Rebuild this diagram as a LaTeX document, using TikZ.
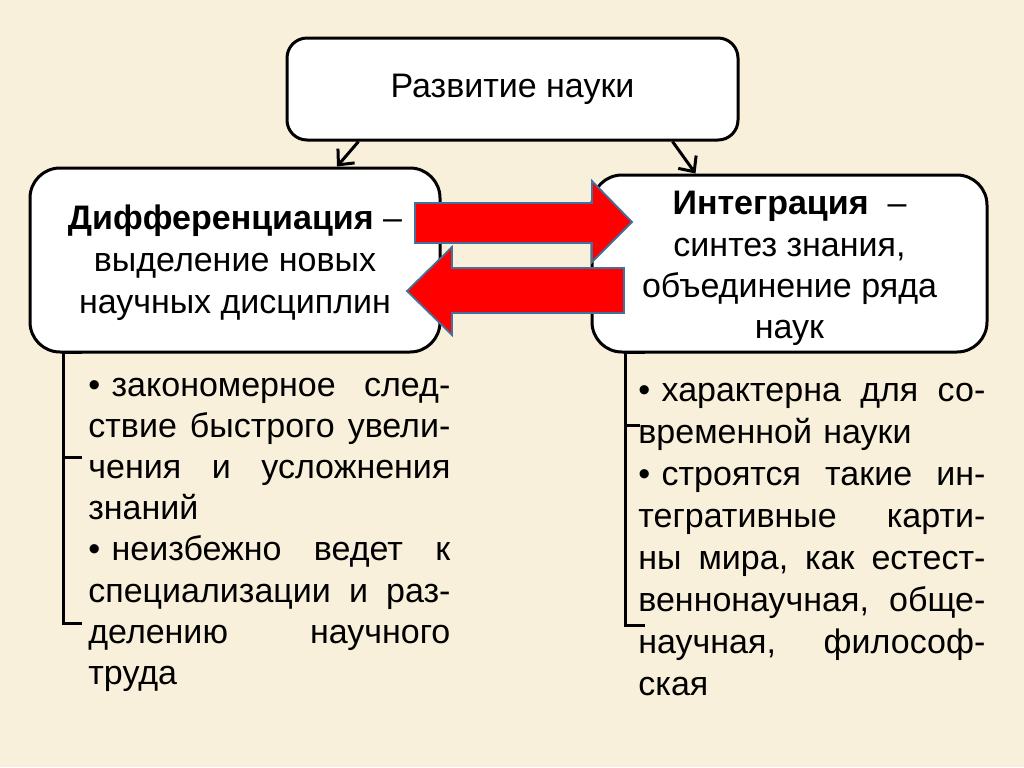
\documentclass[tikz,border=0pt]{standalone}
\usepackage{fontspec}
\setmainfont{Liberation Sans}
\usetikzlibrary{arrows.meta}
\definecolor{bg}{RGB}{249,240,219}
\definecolor{arrowred}{RGB}{255,0,0}
\definecolor{arrowedge}{RGB}{65,113,156}
\tikzset{
  box/.style={draw=black, fill=white, line width=1.5pt, inner sep=0pt},
  boxtext/.style={align=center, inner sep=0pt, font=\fontsize{17pt}{21pt}\selectfont},
  conn/.style={line width=1.5pt, -{Straight Barb[length=6pt,width=11pt,line width=1.5pt]}},
  blockarrow/.style={fill=arrowred, draw=arrowedge, line width=0.9pt, line join=miter},
  bracket/.style={line width=1.5pt},
  bullets/.style={anchor=base west, inner sep=0pt, align=left,
    font=\fontsize{17pt}{20.6pt}\selectfont}
}
\newcommand{\jl}[2]{\leavevmode\hbox to #1{#2}}
\begin{document}
\begin{tikzpicture}[x=0.5pt,y=-0.5pt]
\fill[bg] (0,0) rectangle (1024,767);
\useasboundingbox (0,0) rectangle (1024,767);

% boxes
\node[box, minimum width=225.5pt, minimum height=51pt, rounded corners=10pt] (top) at (512.5,89) {};
\node[boxtext] (toptext) at (top.center) {Развитие науки};
\node[box, minimum width=205pt, minimum height=92pt, rounded corners=15pt] (left) at (235,260) {};
\node[boxtext] (lefttext) at ([yshift=-1.5pt]left.center)
  {\textbf{Дифференциация} –\\выделение новых\\научных дисциплин};
\node[box, minimum width=197.5pt, minimum height=88.5pt, rounded corners=15pt] (right) at (789.5,263.5) {};
\node[boxtext, font=\fontsize{17pt}{20.6pt}\selectfont] (righttext) at ([yshift=-2.5pt]right.center)
  {\textbf{Интеграция} ~–\\синтез знания,\\объединение ряда\\наук};

% connectors from top box
\draw[conn] ([xshift=-77pt]top.south) -- ([xshift=51pt]left.north);
\draw[conn] ([xshift=80pt]top.south) -- ([xshift=-47pt]right.north);

% red block arrows
\draw[blockarrow] (415,203) -- (592,203) -- (592,181) -- (632,222) -- (592,262) -- (592,243) -- (415,243) -- cycle;
\draw[blockarrow] (624,268) -- (452,268) -- (452,247) -- (407,291) -- (452,335) -- (452,313) -- (624,313) -- cycle;

% brackets
\draw[bracket] (82,352) -| (63,623) -- (82,623);
\draw[bracket] (63,457) -- (82,457);
\draw[bracket] (645,352) -| (625,625) -- (645,625);
\draw[bracket] (625,425) -- (640,425);

% bullet texts
\node[bullets, text width=181pt] (ltext) at (88,396) {%
\jl{181pt}{\textbullet\ закономерное\hfill след-}\\
\jl{181pt}{ствие\hfill быстрого\hfill увели-}\\
\jl{181pt}{чения\hfill и\hfill усложнения}\\
знаний\\
\jl{181pt}{\textbullet\ неизбежно\hfill ведет\hfill к}\\
\jl{181pt}{специализации\hfill и\hfill раз-}\\
\jl{181pt}{делению\hfill научного}\\
труда};
\node[bullets, text width=173.5pt, font=\fontsize{17pt}{21pt}\selectfont] (rtext) at (638,401) {%
\jl{173.5pt}{\textbullet\ характерна\hfill для\hfill со-}\\
временной науки\\
\jl{173.5pt}{\textbullet\ строятся\hfill такие\hfill ин-}\\
\jl{173.5pt}{тегративные\hfill карти-}\\
\jl{173.5pt}{ны\hfill мира,\hfill как\hfill естест-}\\
\jl{173.5pt}{веннонаучная,\hfill обще-}\\
\jl{173.5pt}{научная,\hfill философ-}\\
ская};
\end{tikzpicture}
\end{document}
